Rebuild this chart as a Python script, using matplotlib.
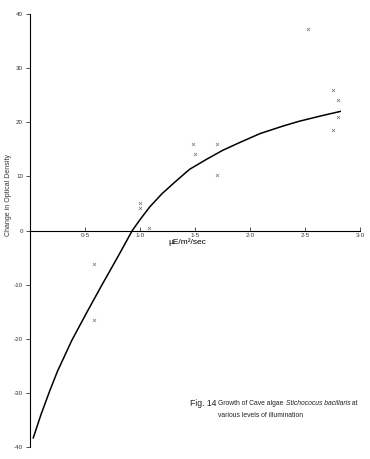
import numpy as np
import matplotlib
matplotlib.use('Agg')
import matplotlib.pyplot as plt

plt.rcParams['font.family'] = ['Liberation Sans', 'DejaVu Sans']

# measured points (light x marks)
pts_x = [0.58, 0.58, 1.0, 1.0, 1.08, 1.48, 1.5, 1.7, 1.7, 2.53, 2.75, 2.8, 2.8, 2.75]
pts_y = [-6.1, -16.5, 5.0, 4.1, 0.5, 16, 14.2, 16, 10.2, 37.3, 26, 24.2, 21, 18.5]

# fitted growth curve
curve_x = [0.03, 0.1, 0.18, 0.25, 0.38, 0.52, 0.65, 0.8, 0.93, 1.0, 1.09, 1.2, 1.32,
           1.45, 1.6, 1.75, 1.9, 2.09, 2.3, 2.45, 2.65, 2.82]
curve_y = [-38.3, -34.0, -29.6, -26, -20.3, -15, -10.2, -4.8, 0, 2.0, 4.4, 6.8, 9,
           11.3, 13.1, 14.8, 16.2, 17.9, 19.3, 20.2, 21.2, 22]

xticks = [0.5, 1.0, 1.5, 2.0, 2.5, 3.0]
xticklabels = ['0·5', '1·0', '1·5', '2·0', '2·5', '3·0']
yticks = [-40, -30, -20, -10, 0, 10, 20, 30, 40]
yticklabels = ['-40', '-30', '-20', '-10', '0', '10', '20', '30', '40']

fig = plt.figure(figsize=(3.70, 4.59), dpi=100)
ax = fig.add_axes([0.081, 0.026, 0.892, 0.9435])

ax.plot(curve_x, curve_y, color='black', lw=1.1)
ax.scatter(pts_x, pts_y, marker='x', s=5, lw=0.5, color='#777777')

ax.set_xlim(0, 3.0)
ax.set_ylim(-40, 40)

for s in ['top', 'right']:
    ax.spines[s].set_visible(False)
ax.spines['bottom'].set_position(('data', 0))
ax.spines['bottom'].set_linewidth(0.8)
ax.spines['left'].set_linewidth(0.8)

ax.set_xticks(xticks)
ax.set_xticklabels(xticklabels)
ax.set_yticks(yticks)
ax.set_yticklabels(yticklabels)
ax.tick_params(axis='x', direction='in', length=3, width=0.6, labelsize=4.5, pad=2, colors='#333333')
ax.tick_params(axis='y', direction='out', length=3, width=0.6, labelsize=4.5, pad=2, colors='#333333')

fig.text(0.505, 0.472, 'µE/m²/sec', fontsize=6, ha='center', va='center')
fig.text(0.022, 0.575, 'Change in Optical Density', fontsize=5, rotation=90,
         ha='center', va='center', color='#333333')

# caption, with the species name in italics
fig.text(0.513, 0.122, 'Fig. 14', fontsize=6.2, ha='left', va='center', color='#222222')
r = fig.canvas.get_renderer()
parts = [('Growth of Cave algae ', 'normal'), ('Stichococus bacillaris', 'italic'), (' at', 'normal')]
x0 = 0.59 * 370
for txt, st in parts:
    t = fig.text(x0 / 370, 0.122, txt, fontsize=4.9, style=st, ha='left', va='center', color='#222222')
    x0 += t.get_window_extent(r).width
fig.text(0.59, 0.094, 'various levels of illumination', fontsize=4.9, ha='left', va='center', color='#222222')

plt.savefig('out.png', dpi=100)
